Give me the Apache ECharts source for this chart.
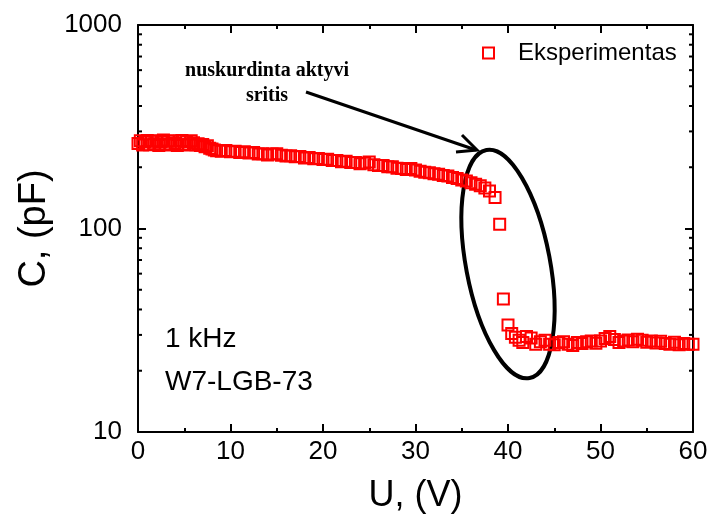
<!DOCTYPE html>
<html>
<head>
<meta charset="utf-8">
<script src="https://cdn.jsdelivr.net/npm/echarts@6/dist/echarts.min.js"></script>
<style>
  html, body { margin: 0; padding: 0; background: #fff; }
  #chart { width: 711px; height: 521px; }
</style>
</head>
<body>
<div id="chart"></div>
<script>
// voltage (V) and capacitance (pF)
var uVolts = [
  0, 0.25, 0.5, 0.75, 1, 1.25, 1.5, 1.75, 2, 2.25, 2.5, 2.75, 3, 3.25, 3.5, 3.75,
  4, 4.25, 4.5, 4.75, 5, 5.25, 5.5, 5.75, 6, 6.25, 6.5, 6.75, 7, 7.25, 7.5,
  7.75, 8, 8.25, 8.5,
  9, 9.5, 10, 10.5, 11, 11.5, 12, 12.5, 13, 13.5, 14, 14.5, 15, 15.5, 16, 16.5,
  17, 17.5, 18, 18.5, 19, 19.5, 20, 20.5, 21, 21.5, 22, 22.5, 23, 23.5, 24, 24.5,
  25, 25.5, 26, 26.5, 27, 27.5, 28, 28.5, 29, 29.5, 30, 30.5, 31, 31.5, 32, 32.5,
  33, 33.5, 34, 34.5, 35, 35.5, 36, 36.5, 37, 37.5, 38, 38.6,
  39.1, 39.5, 40, 40.4, 40.8, 41.2, 41.6,
  42, 42.5, 43, 43.5, 44, 44.5, 45, 45.5, 46, 46.5, 47, 47.5, 48, 48.5, 49, 49.5,
  50, 50.5, 51, 51.5, 52, 52.5, 53, 53.5, 54, 54.5, 55, 55.5, 56, 56.5, 57, 57.5,
  58, 58.5, 59, 59.5, 60
];
var cPicofarad = [
  262, 270, 257, 266, 271, 258, 268, 261, 270, 256, 266, 272, 260, 268, 257, 270,
  262, 256, 268, 271, 259, 266, 257, 270, 264, 258, 261, 256, 259, 252, 255,
  248, 246, 243, 241,
  240, 242, 238, 240, 236, 238, 235, 236, 232, 233, 230, 232, 233, 229, 227, 228,
  225, 226, 222, 223, 220, 221, 218, 219, 216, 216, 213, 214, 211, 211, 208, 210,
  212, 206, 204, 204, 201, 201, 198, 197, 195, 197, 194, 191, 189, 188, 186, 185,
  182, 181, 178, 176, 173, 171, 168, 165, 162, 158, 153, 142,
  105, 45, 33.6, 30.5, 29.2, 28.2, 27.5,
  29.5, 29.0, 27.0, 27.8, 28.2, 27.0, 26.8, 27.5, 27.8, 27.0, 26.6, 27.5, 27.2, 27.8, 28.0, 27.3,
  28.0, 28.8, 29.5, 28.5, 27.5, 28.0, 28.3, 27.8, 28.6, 28.2, 27.6, 28.0, 27.4, 27.9, 27.2, 27.0,
  27.6, 26.8, 27.2, 27.0, 27.0
];
var xTicks = { min: 0, max: 60, step: 10 };
var yRange = { min: 10, max: 1000 };
var seriesName = 'Eksperimentas';

var points = [];
for (var i = 0; i < uVolts.length; i++) {
  points.push([uVolts[i], cPicofarad[i]]);
}

var sans = "'Liberation Sans', Arial, sans-serif";
var chart = echarts.init(document.getElementById('chart'), null, { renderer: 'canvas' });

var xCommon = {
  type: 'value',
  min: xTicks.min,
  max: xTicks.max,
  interval: xTicks.step,
  axisLine: { show: true, onZero: false, lineStyle: { color: '#000', width: 2 } },
  axisTick: { show: true, inside: true, length: 8, lineStyle: { color: '#000', width: 2 } },
  minorTick: { show: true, splitNumber: 2, length: 4, lineStyle: { color: '#000', width: 2 } },
  splitLine: { show: false }
};
var yCommon = {
  type: 'log',
  logBase: 10,
  min: yRange.min,
  max: yRange.max,
  axisLine: { show: true, onZero: false, lineStyle: { color: '#000', width: 2 } },
  axisTick: { show: true, inside: true, length: 8, lineStyle: { color: '#000', width: 2 } },
  splitLine: { show: false }
};

var option = {
  animation: false,
  backgroundColor: '#fff',
  grid: { left: 138, right: 18, top: 25, bottom: 89 },
  legend: {
    data: [seriesName],
    left: 477,
    top: 36,
    icon: 'rect',
    itemWidth: 11,
    itemHeight: 11,
    itemStyle: { color: '#fff', borderColor: '#ff0000', borderWidth: 2 },
    textStyle: { fontFamily: sans, fontSize: 24, color: '#000', padding: [0, 0, 0, 19] }
  },
  xAxis: [
    Object.assign({}, xCommon, {
      position: 'bottom',
      axisLabel: { color: '#000', fontSize: 26, fontFamily: sans, margin: 7 },
      name: 'U, (V)',
      nameLocation: 'middle',
      nameGap: 46,
      nameTextStyle: { color: '#000', fontSize: 36, fontFamily: sans }
    }),
    Object.assign({}, xCommon, { position: 'top', axisLabel: { show: false } })
  ],
  yAxis: [
    Object.assign({}, yCommon, {
      position: 'left',
      axisLabel: {
        color: '#000', fontSize: 26, fontFamily: sans, margin: 16,
        formatter: function (v) { return String(v); }
      },
      name: 'C, (pF)',
      nameLocation: 'middle',
      nameGap: 80,
      nameTextStyle: { color: '#000', fontSize: 38, fontFamily: sans }
    }),
    Object.assign({}, yCommon, { position: 'right', axisLabel: { show: false } })
  ],
  series: [
    {
      name: seriesName,
      type: 'scatter',
      data: points,
      symbol: 'rect',
      symbolSize: 11,
      itemStyle: { color: 'rgba(255,255,255,0)', borderColor: '#ff0000', borderWidth: 2, opacity: 1 },
      emphasis: { disabled: true }
    }
  ]
};
chart.setOption(option);

// log minor ticks (2..9 per decade) on the left and right axes
var gridLeft = 138, gridRight = 711 - 18;
var extra = [];
for (var dec = yRange.min; dec < yRange.max; dec *= 10) {
  for (var m = 2; m <= 9; m++) {
    var py = chart.convertToPixel({ yAxisIndex: 0 }, dec * m);
    extra.push({ type: 'line', shape: { x1: gridLeft, y1: py, x2: gridLeft + 4, y2: py }, style: { stroke: '#000', lineWidth: 2 } });
    extra.push({ type: 'line', shape: { x1: gridRight - 4, y1: py, x2: gridRight, y2: py }, style: { stroke: '#000', lineWidth: 2 } });
  }
}

// annotations
var serif = "'Liberation Serif', 'Times New Roman', serif";
extra.push(
  { type: 'text', x: 267, y: 58, style: { text: 'nuskurdinta aktyvi\nsritis', fill: '#000', font: 'bold 20px ' + serif, textAlign: 'center', lineHeight: 25 } },
  { type: 'line', shape: { x1: 306, y1: 92, x2: 476, y2: 150 }, style: { stroke: '#000', lineWidth: 3 } },
  { type: 'polyline', shape: { points: [[462, 135], [477, 150], [456, 152]] }, style: { stroke: '#000', lineWidth: 3, fill: null } },
  { type: 'ellipse', x: 508, y: 264, rotation: 0.187, shape: { cx: 0, cy: 0, rx: 42, ry: 116 }, style: { stroke: '#000', lineWidth: 4, fill: null } },
  { type: 'text', x: 165, y: 325, style: { text: '1 kHz', fill: '#000', font: '28px ' + sans } },
  { type: 'text', x: 165, y: 368, style: { text: 'W7-LGB-73', fill: '#000', font: '28px ' + sans } }
);
chart.setOption({ graphic: extra });
</script>
</body>
</html>
